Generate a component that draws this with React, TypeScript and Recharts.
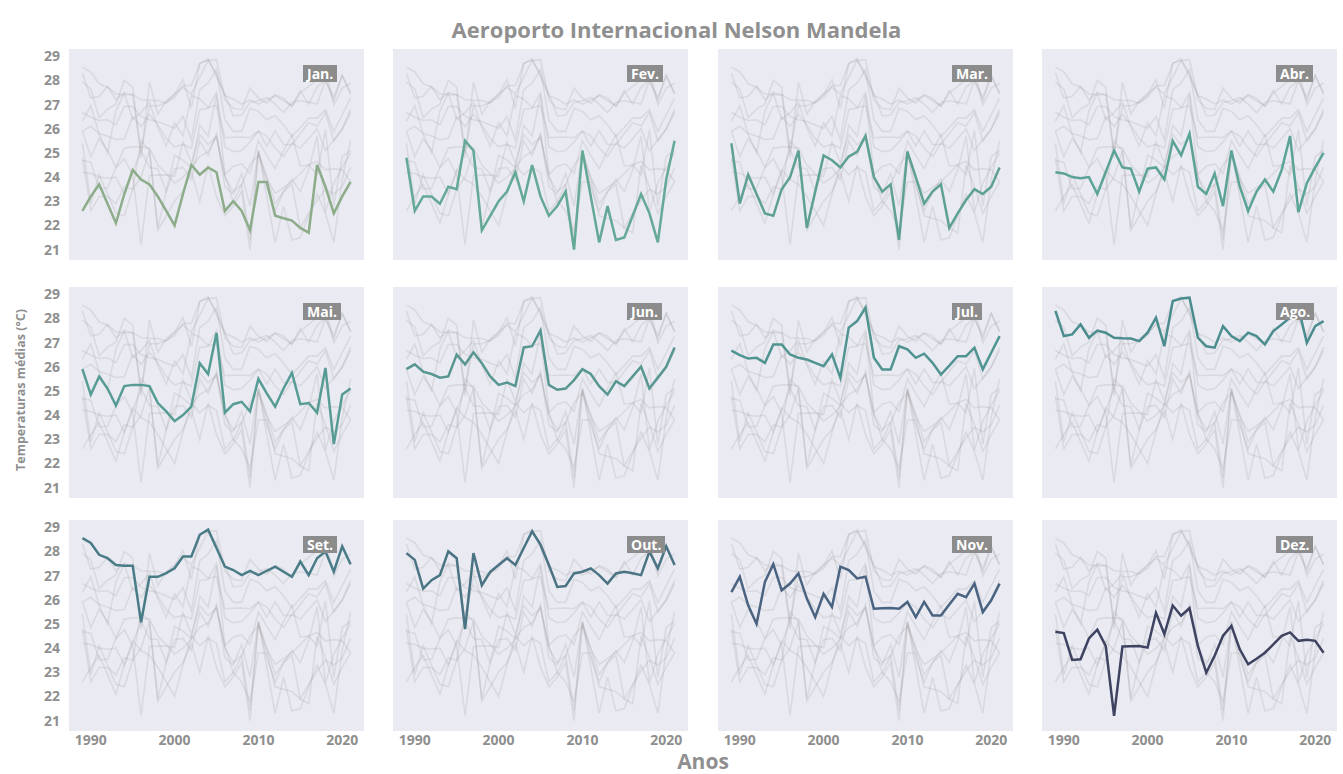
import React from "react";
import { LineChart, Line, XAxis, YAxis, CartesianGrid } from "recharts";

const years = [
  1989, 1990, 1991, 1992, 1993, 1994, 1995, 1996, 1997, 1998, 1999, 2000, 2001,
  2002, 2003, 2004, 2005, 2006, 2007, 2008, 2009, 2010, 2011, 2012, 2013, 2014,
  2015, 2016, 2017, 2018, 2019, 2020, 2021,
];

const monthLabels = ["Jan.", "Fev.", "Mar.", "Abr.", "Mai.", "Jun.", "Jul.", "Ago.", "Set.", "Out.", "Nov.", "Dez."];

// temperaturas médias mensais (°C), uma lista por mês
const jan = [22.6, 23.2, 23.7, 22.9, 22.1, 23.3, 24.3, 23.9, 23.7, 23.2, 22.6, 22.0, 23.3, 24.5, 24.1, 24.4, 24.2, 22.6, 23.0, 22.6, 21.8, 23.8, 23.8, 22.4, 22.3, 22.2, 21.9, 21.7, 24.5, 23.6, 22.5, 23.2, 23.8];
const fev = [24.8, 22.6, 23.2, 23.2, 22.9, 23.6, 23.5, 25.5, 25.1, 21.8, 22.4, 23.0, 23.4, 24.2, 23.0, 24.5, 23.2, 22.4, 22.8, 23.4, 21.0, 25.1, 23.2, 21.3, 22.8, 21.4, 21.5, 22.4, 23.3, 22.5, 21.3, 23.9, 25.5];
const mar = [25.4, 22.9, 24.1, 23.3, 22.5, 22.4, 23.5, 24.0, 25.1, 21.9, 23.4, 24.9, 24.7, 24.4, 24.85, 25.05, 25.7, 24.0, 23.4, 23.7, 21.4, 25.05, 24.0, 22.9, 23.4, 23.7, 21.9, 22.5, 23.05, 23.5, 23.3, 23.6, 24.4];
const abr = [24.2, 24.15, 24.0, 23.95, 24.0, 23.3, 24.2, 25.1, 24.4, 24.35, 23.4, 24.35, 24.4, 23.9, 25.5, 24.9, 25.8, 23.6, 23.3, 24.15, 22.8, 25.1, 23.6, 22.6, 23.4, 23.9, 23.4, 24.3, 25.7, 22.55, 23.75, 24.4, 25.0];
const mai = [25.9, 24.85, 25.6, 25.1, 24.4, 25.2, 25.25, 25.25, 25.2, 24.5, 24.15, 23.75, 24.0, 24.35, 26.15, 25.7, 27.4, 24.1, 24.45, 24.55, 24.15, 25.5, 24.9, 24.35, 25.1, 25.75, 24.45, 24.5, 24.1, 25.95, 22.8, 24.85, 25.1];
const jun = [25.9, 26.1, 25.8, 25.7, 25.55, 25.6, 26.5, 26.1, 26.6, 26.15, 25.6, 25.25, 25.35, 25.2, 26.8, 26.85, 27.5, 25.25, 25.05, 25.1, 25.45, 25.9, 25.7, 25.2, 24.85, 25.4, 25.2, 25.6, 26.0, 25.1, 25.55, 26.0, 26.8];
const jul = [26.67, 26.48, 26.34, 26.37, 26.16, 26.92, 26.92, 26.51, 26.37, 26.3, 26.16, 26.02, 26.51, 25.54, 27.62, 27.89, 28.45, 26.37, 25.89, 25.89, 26.85, 26.72, 26.37, 26.54, 26.16, 25.68, 26.05, 26.44, 26.44, 26.79, 25.89, 26.58, 27.27];
const ago = [28.31, 27.27, 27.34, 27.75, 27.2, 27.5, 27.41, 27.2, 27.18, 27.17, 27.06, 27.41, 28.03, 26.85, 28.72, 28.82, 28.86, 27.2, 26.85, 26.79, 27.68, 27.27, 27.06, 27.41, 27.27, 26.92, 27.48, 27.75, 28.03, 28.45, 26.99, 27.68, 27.89];
const set = [28.55, 28.35, 27.86, 27.72, 27.44, 27.41, 27.41, 25.07, 26.95, 26.95, 27.1, 27.3, 27.79, 27.79, 28.69, 28.9, 28.14, 27.37, 27.23, 27.02, 27.19, 27.02, 27.2, 27.37, 27.16, 26.95, 27.58, 27.02, 27.72, 28.0, 27.16, 28.21, 27.47];
const out = [27.93, 27.65, 26.46, 26.81, 27.02, 28.0, 27.72, 24.79, 27.93, 26.6, 27.16, 27.44, 27.72, 27.44, 28.14, 28.83, 28.28, 27.44, 26.53, 26.57, 27.09, 27.16, 27.3, 27.02, 26.67, 27.09, 27.16, 27.1, 27.02, 28.0, 27.3, 28.21, 27.44];
const nov = [26.32, 26.95, 25.77, 25.0, 26.74, 27.47, 26.39, 26.67, 27.09, 26.05, 25.28, 26.25, 25.7, 27.37, 27.23, 26.88, 26.95, 25.63, 25.65, 25.66, 25.63, 25.91, 25.28, 25.91, 25.35, 25.35, 25.8, 26.25, 26.11, 26.67, 25.49, 25.98, 26.67];
const dez = [24.68, 24.62, 23.51, 23.54, 24.4, 24.76, 24.09, 21.2, 24.07, 24.08, 24.09, 24.02, 25.46, 24.58, 25.76, 25.34, 25.65, 24.09, 22.98, 23.68, 24.51, 24.92, 23.95, 23.33, 23.56, 23.81, 24.15, 24.51, 24.65, 24.3, 24.35, 24.3, 23.81];

const xTicks = [1990, 2000, 2010, 2020];
const yTicks = [21, 22, 23, 24, 25, 26, 27, 28, 29];

const series = [jan, fev, mar, abr, mai, jun, jul, ago, set, out, nov, dez];
const colors = [
  "#8dac8a", "#64a896", "#5ea093", "#5ba396", "#579c94", "#589691",
  "#4f9490", "#4b8d8f", "#4a7c87", "#4a7483", "#4a6380", "#3e4361",
];

const data = years.map((year, i) => {
  const row: Record<string, number> = { year };
  series.forEach((s, k) => {
    row["m" + k] = s[i];
  });
  return row;
});

const COL_LEFT = [69, 393, 718, 1042];
const ROW_TOP = [49, 287, 520];
const PLOT_W = 295;
const PLOT_H = 211;
const Y_AXIS_W = 50;
const X_AXIS_H = 28;
const PAD_TOP = 10;
const GREY = "#8f8f8f";
const tickStyle = { fill: GREY, fontSize: 14, fontWeight: 700, fontFamily: "Open Sans" };

function Panel({ idx }: { idx: number }) {
  const col = idx % 4;
  const row = Math.floor(idx / 4);
  const showY = col === 0;
  const showX = row === 2;
  const w = PLOT_W + (showY ? Y_AXIS_W : 0);
  const h = PLOT_H + PAD_TOP + (showX ? X_AXIS_H : 0);
  const left = COL_LEFT[col] - (showY ? Y_AXIS_W : 0);

  return (
    <div style={{ position: "absolute", left, top: ROW_TOP[row] - PAD_TOP, width: w, height: h }}>
      <LineChart width={w} height={h} data={data} margin={{ top: PAD_TOP, right: 0, bottom: 0, left: 0 }}>
        <CartesianGrid horizontal={false} vertical={false} fill="#eaeaf2" stroke="none" />
        <XAxis
          type="number"
          dataKey="year"
          domain={[1987.4, 2022.6]}
          ticks={xTicks}
          hide={!showX}
          height={X_AXIS_H}
          axisLine={false}
          tickLine={false}
          tickSize={0}
          tickMargin={4}
          tick={tickStyle}
          allowDataOverflow
        />
        <YAxis
          type="number"
          domain={[20.57, 29.3]}
          ticks={yTicks}
          hide={!showY}
          width={Y_AXIS_W}
          axisLine={false}
          tickLine={false}
          tickSize={0}
          tickMargin={9}
          tick={tickStyle}
          interval={0}
          allowDataOverflow
        />
        {series.map((_, k) =>
          k === idx ? null : (
            <Line
              key={k}
              dataKey={"m" + k}
              stroke="#8a8a8a"
              strokeOpacity={0.17}
              strokeWidth={1.6}
              dot={false}
              activeDot={false}
              isAnimationActive={false}
            />
          )
        )}
        <Line
          dataKey={"m" + idx}
          stroke={colors[idx]}
          strokeWidth={2.5}
          dot={false}
          activeDot={false}
          isAnimationActive={false}
        />
      </LineChart>
      <div
        style={{
          position: "absolute",
          left: (showY ? Y_AXIS_W : 0) + 234,
          top: PAD_TOP + 16,
          height: 17,
          lineHeight: "17px",
          padding: "0 4px",
          background: "#8c8c8c",
          color: "#ffffff",
          fontFamily: "Open Sans",
          fontWeight: 700,
          fontSize: 14,
        }}
      >
        {monthLabels[idx]}
      </div>
    </div>
  );
}

export default function App() {
  return (
    <div
      style={{
        position: "absolute",
        left: 0,
        top: 0,
        width: 1343,
        height: 774,
        background: "#ffffff",
        fontFamily: "Open Sans",
        overflow: "hidden",
      }}
    >
      <div
        style={{
          position: "absolute",
          left: 0,
          width: 1353,
          top: 14,
          textAlign: "center",
          fontSize: 22,
          fontWeight: 700,
          color: GREY,
        }}
      >
        Aeroporto Internacional Nelson Mandela
      </div>
      <div
        style={{
          position: "absolute",
          left: 20,
          top: 390,
          transform: "translate(-50%, -50%) rotate(-90deg)",
          whiteSpace: "nowrap",
          fontSize: 12.5,
          fontWeight: 700,
          color: GREY,
        }}
      >
        Temperaturas médias (°C)
      </div>
      <div
        style={{
          position: "absolute",
          left: 0,
          width: 1406,
          top: 751,
          lineHeight: "21px",
          textAlign: "center",
          fontSize: 21,
          fontWeight: 700,
          color: GREY,
        }}
      >
        Anos
      </div>
      {series.map((_, i) => (
        <Panel key={i} idx={i} />
      ))}
    </div>
  );
}
